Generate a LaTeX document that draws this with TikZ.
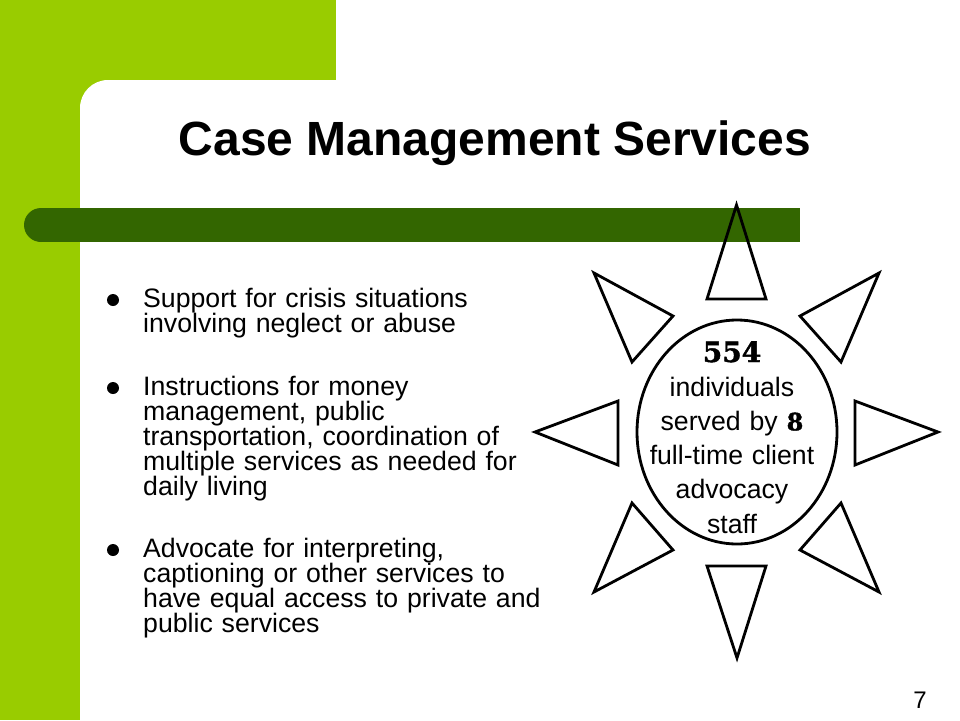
\documentclass[tikz,border=0pt]{standalone}
\usepackage{fontspec}
\setsansfont{Liberation Sans}
\newfontfamily\fatface{DejaVu Serif}[FakeBold=1.5]
\definecolor{slidelime}{RGB}{153, 204, 0}
\definecolor{slidegreen}{RGB}{51, 102, 0}

\begin{document}
\begin{tikzpicture}[x=1pt, y=-1pt, font=\sffamily,
    ray/.style={draw=black, line width=2.8pt},
    item/.style={anchor=base west, inner sep=0pt, text width=430pt, align=left,
        font=\sffamily\fontsize{26.67}{25}\selectfont},
    bulletdot/.style={circle, fill=black, inner sep=0pt, minimum size=12pt}]
    \fill[white] (0,0) rectangle (960,720);
    \useasboundingbox (0,0) rectangle (960,720);

    \fill[slidelime] (0,0) rectangle (336,80);
    \fill[slidelime] (0,0) rectangle (80,720);
    \fill[slidelime] (80,80) rectangle (120,120);
    \fill[white] (80,720) [rounded corners=28pt] -- (80,80) [sharp corners] -- (960,80) -- (960,720) -- cycle;

    \fill[slidegreen] (41,208) rectangle (800,242);
    \fill[slidegreen] (41,225) circle (17);

    \node[anchor=base, font=\sffamily\bfseries\fontsize{48}{58}\selectfont] (title) at (495,155) {Case Management Services};

    \node[bulletdot] (dot1) at (113,300) {};
    \node[bulletdot] (dot2) at (113,388) {};
    \node[bulletdot] (dot3) at (113,550) {};
    \node[item] (crisis) at (143,307) {Support for crisis situations\\involving neglect or abuse};
    \node[item] (living) at (143,395) {Instructions for money\\management, public\\transportation, coordination of\\multiple services as needed for\\daily living};
    \node[item] (access) at (143,557) {Advocate for interpreting,\\captioning or other services to\\have equal access to private and\\public services};

    \draw[ray] (736.5,205) -- (707,299) -- (766,299) -- cycle;
    \draw[ray] (707,566) -- (766,566) -- (737,658) -- cycle;
    \draw[ray] (535,432) -- (618,401) -- (618,465) -- cycle;
    \draw[ray] (855,401) -- (855,465) -- (938,432) -- cycle;
    \draw[ray] (594,273) -- (673,316) -- (632,362) -- cycle;
    \draw[ray] (879,273) -- (800,316) -- (841,362) -- cycle;
    \draw[ray] (594,592) -- (673,550) -- (632,503) -- cycle;
    \draw[ray] (879,592) -- (800,550) -- (841,503) -- cycle;
    \draw[line width=2.8pt] (737,432) ellipse [x radius=100, y radius=112];

    \node[anchor=base, inner sep=0pt, text width=200pt, align=center,
        font=\sffamily\fontsize{26.67}{34.2}\selectfont] (staff) at (732,362)
        {{\fatface\bfseries\fontsize{28}{34.2}\selectfont 554}\\individuals\\served by {\fatface\bfseries\fontsize{24}{34.2}\selectfont 8}\\full-time client\\advocacy\\staff};

    \node[anchor=base east, inner sep=0pt, font=\sffamily\fontsize{24}{28}\selectfont] (pagenum) at (927,708) {7};
\end{tikzpicture}
\end{document}
